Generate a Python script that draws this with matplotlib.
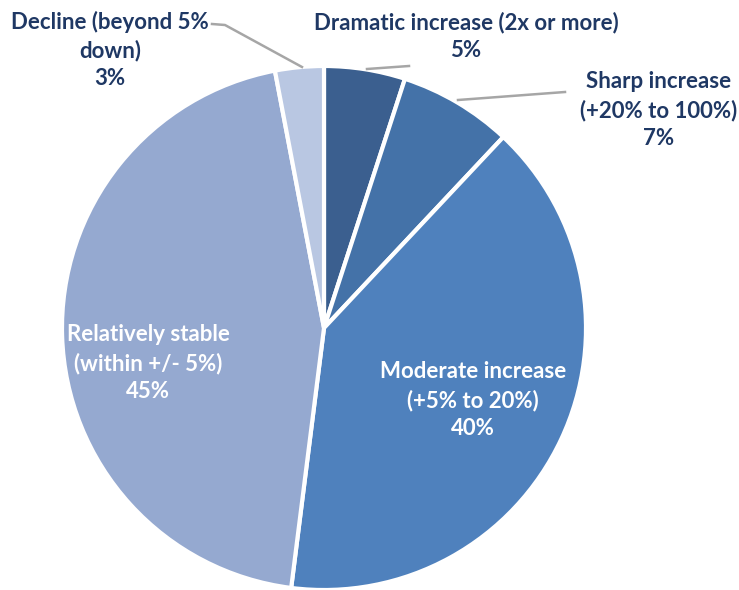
import matplotlib
matplotlib.use("Agg")
import matplotlib.pyplot as plt

categories = ["Dramatic increase (2x or more)", "Sharp increase\n(+20% to 100%)",
              "Moderate increase\n(+5% to 20%)", "Relatively stable\n(within +/- 5%)",
              "Decline (beyond 5%\ndown)"]
values = [5, 7, 40, 45, 3]
colors = ["#3B5F8F", "#4472A8", "#4F81BD", "#95A9D0", "#B9C7E2"]

plt.rcParams['font.family'] = ['Lato', 'DejaVu Sans']

fig = plt.figure(figsize=(7.39, 5.90), dpi=100)
W, H = 739, 590
cx, cy, r = 324, 328, 262
ax = fig.add_axes([(cx - r) / W, (H - cy - r) / H, 2 * r / W, 2 * r / H])

ax.pie(values, colors=colors, startangle=90, counterclock=False, radius=1,
       wedgeprops=dict(edgecolor='white', linewidth=3))
ax.set_xlim(-1, 1)
ax.set_ylim(-1, 1)
ax.set_aspect('equal')
ax.axis('off')

def d(px, py):
    return ((px - cx) / r, (cy - py) / r)

navy = "#1F3864"
lbl = [f"{c}\n{v}%" for c, v in zip(categories, values)]
pos = [d(466, 36), d(659, 110), d(473, 400), d(148, 363), d(110, 50)]
tcol = [navy, navy, "white", "white", navy]
for t, p, c in zip(lbl, pos, tcol):
    ax.text(p[0], p[1], t, ha='center', va='center', multialignment='center',
            fontsize=16, fontweight='bold', color=c, linespacing=1.4, clip_on=False)

lines = [[d(212, 24), d(225, 25), d(302, 67)],
         [d(367, 69), d(409, 66)],
         [d(458, 100), d(565, 92)]]
for ln in lines:
    xs = [q[0] for q in ln]
    ys = [q[1] for q in ln]
    ax.plot(xs, ys, color="#A6A6A6", lw=1.8, clip_on=False)

fig.savefig("out.png", dpi=100)
